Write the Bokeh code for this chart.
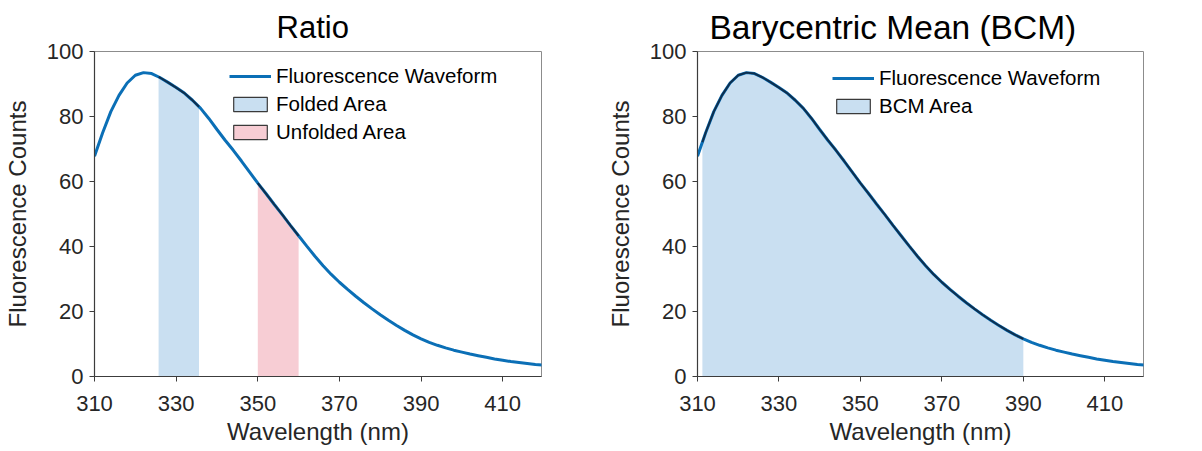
import numpy as np
from bokeh.plotting import figure
from bokeh.layouts import row
from bokeh.models import Legend, LegendItem
from bokeh.embed import file_html
from bokeh.resources import INLINE

# ---- data ----
wavelength = list(range(310, 421, 2))
counts = [67.8, 75.0, 81.5, 86.5, 90.3, 92.7, 93.5, 93.2, 92.0, 90.5,
          88.9, 87.2, 85.0, 82.5, 79.4, 76.0, 72.7, 69.6, 66.3, 62.9,
          59.5, 56.3, 53.0, 49.8, 46.5, 43.3, 40.1, 37.0, 34.1, 31.4,
          29.0, 26.8, 24.7, 22.7, 20.8, 19.0, 17.3, 15.7, 14.2, 12.8,
          11.6, 10.5, 9.6, 8.8, 8.1, 7.5, 6.9, 6.4, 5.9, 5.4,
          5.0, 4.6, 4.3, 4.0, 3.7, 3.5]
folded_range = [325.7, 335.6]
unfolded_range = [350.0, 360.0]
bcm_range = [311.2, 390.0]
x_ticks = [310, 330, 350, 370, 390, 410]
y_ticks = [0, 20, 40, 60, 80, 100]
titles = ["Ratio", "Barycentric Mean (BCM)"]
x_label = "Wavelength (nm)"
y_label = "Fluorescence Counts"

LINE_BLUE = "#0b6fb6"
EDGE_DARK = "#0e2f4e"
FILL_BLUE = "#c9dff1"
FILL_PINK = "#f7cdd4"
FONT = "Liberation Sans"


def segment(lo, hi):
    xs = [lo] + [w for w in wavelength if lo < w < hi] + [hi]
    ys = list(np.interp(xs, wavelength, counts))
    return xs, ys


def make_fig(title, left, right, fw, tsize, tstandoff, toffset):
    p = figure(frame_width=fw, frame_height=325,
               x_range=(310, 419.5), y_range=(0, 100),
               output_backend="svg", toolbar_location=None,
               min_border_left=left, min_border_right=right,
               min_border_top=10, min_border_bottom=40, title=title)
    p.background_fill_color = "white"
    p.border_fill_color = "white"
    p.outline_line_color = "#8c8c8c"
    p.outline_line_width = 1
    p.grid.visible = False
    p.xaxis.ticker = x_ticks
    p.yaxis.ticker = y_ticks
    p.axis.minor_tick_line_color = None
    p.axis.major_tick_in = 0
    p.axis.major_tick_out = 5
    p.axis.axis_line_color = "#3c3c3c"
    p.axis.major_tick_line_color = "#3c3c3c"
    p.axis.axis_line_width = 1.2
    p.axis.major_label_text_font = FONT
    p.axis.major_label_text_font_size = "22px"
    p.axis.major_label_text_color = "#262626"
    p.axis.axis_label_text_font = FONT
    p.axis.axis_label_text_font_size = "24px"
    p.axis.axis_label_text_font_style = "normal"
    p.axis.axis_label_text_color = "#262626"
    p.xaxis.axis_label = x_label
    p.yaxis.axis_label = y_label
    p.xaxis.major_label_standoff = 14
    p.yaxis.major_label_standoff = 6
    p.xaxis.axis_label_standoff = 4
    p.yaxis.axis_label_standoff = 13
    p.title.align = "left"
    p.title.offset = toffset
    p.title.standoff = tstandoff
    p.title.text_font = FONT
    p.title.text_font_size = tsize
    p.title.text_font_style = "normal"
    p.title.text_color = "black"
    return p


def add_legend(p, items, top_gap):
    n = len(items)
    row_h, gap = 24, 4
    height = n * row_h + (n - 1) * gap
    leg = Legend(items=items, location=(135, 325 - top_gap - height))
    leg.padding = 0
    leg.margin = 0
    leg.spacing = gap
    leg.glyph_width = 42
    leg.glyph_height = 18
    leg.label_height = row_h
    leg.label_standoff = 5
    leg.label_text_font = FONT
    leg.label_text_font_size = "20.5px"
    leg.label_text_color = "black"
    leg.border_line_alpha = 0
    leg.background_fill_alpha = 0
    p.add_layout(leg)


def legend_box(p, rng, color):
    # zero-height box lying on the x axis; used only for its legend swatch
    return p.quad(left=[rng[0]], right=[rng[1]], top=[0], bottom=[0],
                  fill_color=color, line_color="#3a3a3a", line_width=1.2)


# ---- left: Ratio ----
p1 = make_fig(titles[0], 88, 60, 447, "31px", 14, 182)
fx, fy = segment(*folded_range)
ux, uy = segment(*unfolded_range)
p1.varea(x=fx, y1=0, y2=fy, fill_color=FILL_BLUE)
p1.varea(x=ux, y1=0, y2=uy, fill_color=FILL_PINK)
wave1 = p1.line(wavelength, counts, line_color=LINE_BLUE, line_width=3)
p1.line(fx, fy, line_color=EDGE_DARK, line_width=2)
p1.line(ux, uy, line_color=EDGE_DARK, line_width=2)
box_f = legend_box(p1, folded_range, FILL_BLUE)
box_u = legend_box(p1, unfolded_range, FILL_PINK)
add_legend(p1, [LegendItem(label="Fluorescence Waveform", renderers=[wave1]),
                LegendItem(label="Folded Area", renderers=[box_f]),
                LegendItem(label="Unfolded Area", renderers=[box_u])], 13)

# ---- right: BCM ----
p2 = make_fig(titles[1], 96, 35, 446, "33.5px", 11.7, 12)
bx, by = segment(*bcm_range)
p2.varea(x=bx, y1=0, y2=by, fill_color=FILL_BLUE)
wave2 = p2.line(wavelength, counts, line_color=LINE_BLUE, line_width=3)
p2.line(bx, by, line_color=EDGE_DARK, line_width=2)
box_b = legend_box(p2, bcm_range, FILL_BLUE)
add_legend(p2, [LegendItem(label="Fluorescence Waveform", renderers=[wave2]),
                LegendItem(label="BCM Area", renderers=[box_b])], 14.5)

layout = row(p1, p2)
open("out.html", "w").write(file_html(layout, INLINE))
